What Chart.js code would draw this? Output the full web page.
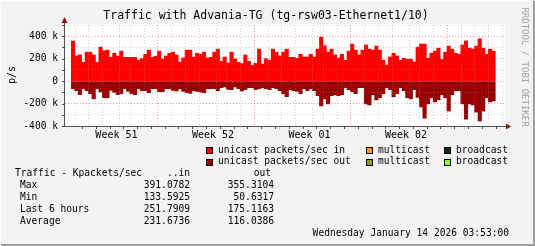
<!DOCTYPE html>
<html>
<head>
<meta charset="utf-8">
<script src="https://cdn.jsdelivr.net/npm/chart.js@4.4.1/dist/chart.umd.min.js"></script>
<style>
  html, body { margin: 0; padding: 0; background: #f3f3f3; }
</style>
</head>
<body>
<canvas id="traffic" width="535" height="246"></canvas>
<script>
// 6-hour averages, Kpackets/sec
const inKpps = [
  357, 224, 233, 167, 258, 258, 233, 167, 303, 270, 276, 212, 248, 224, 267, 212,
  212, 212, 212, 185, 200, 239, 276, 212, 222, 267, 197, 224, 248, 258, 233, 170,
  206, 276, 276, 215, 248, 239, 258, 206, 212, 258, 285, 176, 215, 161, 258, 197,
  167, 156, 233, 176, 139, 158, 285, 152, 200, 185, 285, 258, 224, 258, 285, 212,
  212, 203, 239, 215, 215, 239, 215, 285, 391, 315, 258, 285, 233, 206, 239, 185,
  267, 330, 276, 233, 276, 321, 285, 276, 312, 276, 185, 142, 215, 248, 224, 185,
  203, 194, 194, 170, 303, 330, 330, 203, 248, 267, 294, 194, 258, 312, 285, 248,
  239, 321, 358, 294, 285, 312, 377, 294, 239, 285, 267
];
const outKpps = [
  67, 85, 121, 67, 85, 112, 158, 67, 97, 148, 148, 82, 100, 121, 112, 67,
  91, 112, 121, 67, 85, 85, 103, 67, 67, 94, 94, 67, 67, 82, 88, 67,
  91, 103, 109, 85, 91, 97, 103, 67, 67, 67, 85, 58, 52, 73, 76, 52,
  67, 88, 75, 58, 58, 76, 67, 58, 67, 76, 58, 67, 85, 112, 139, 76,
  85, 91, 112, 67, 85, 67, 85, 130, 221, 158, 203, 130, 121, 130, 121, 58,
  76, 94, 112, 58, 58, 203, 212, 121, 167, 148, 112, 58, 76, 139, 112, 58,
  85, 148, 158, 76, 145, 230, 330, 203, 148, 185, 167, 121, 148, 267, 121, 85,
  85, 203, 339, 203, 212, 276, 355, 267, 148, 185, 176
];
const weekLabels = ['Week 51', 'Week 52', 'Week 01', 'Week 02'];

const legendRow1 = ['unicast packets/sec in', 'multicast', 'broadcast'];
const legendRow2 = ['unicast packets/sec out', 'multicast', 'broadcast'];
const legendColors1 = ['#ff0000', '#ff9900', '#003300'];
const legendColors2 = ['#990000', '#999900', '#99ff00'];

const statNames = ['Max', 'Min', 'Last 6 hours', 'Average'];
const statIn = ['391.0782', '133.5925', '251.7909', '231.6736'];
const statOut = ['355.3104', '50.6317', '175.1163', '116.0386'];

const MONO = '"DejaVu Sans Mono", monospace';
const SLOTS = 124;          // 6-hour slots across the plot
const DAY = 4;              // slots per day
const FIRST_DAY = 3.1;      // first midnight, in slots
const FIRST_WEEK_DAY = 6;   // index of the first Monday among the day lines

const dayLines = [];
for (let v = FIRST_DAY; v < SLOTS; v += DAY) dayLines.push(v);
const weekLines = dayLines.filter((v, i) => (i - FIRST_WEEK_DAY) % 7 === 0);
const weekCenters = weekLabels.map((w, i) => weekLines[i] - 3.5 * DAY);
const weekLineSet = new Set(weekLines);
const centerSet = new Set(weekCenters);

// rrdtool draws its grid over the graph, half transparent
const minorGrid = 'rgba(143,143,143,0.4)';
const majorGrid = 'rgba(255,0,0,0.4)';

const tickVal = c => (c && c.tick) ? c.tick.value : null;

const rrdDecor = {
  id: 'rrdDecor',
  beforeDraw(chart) {
    const { ctx, chartArea: a } = chart;
    ctx.save();
    ctx.fillStyle = '#f3f3f3';
    ctx.fillRect(0, 0, chart.width, chart.height);
    ctx.fillStyle = '#ffffff';
    ctx.fillRect(a.left, a.top - 1, a.right - a.left, a.bottom - a.top + 1);
    ctx.restore();
  },
  afterDraw(chart) {
    const { ctx, chartArea: a } = chart;
    const xs = chart.scales.x, ys = chart.scales.y;
    ctx.save();

    // axes
    ctx.strokeStyle = '#505050';
    ctx.lineWidth = 1;
    ctx.beginPath();
    ctx.moveTo(a.left - 0.5, a.bottom + 0.5);
    ctx.lineTo(a.left - 0.5, a.top - 3);
    ctx.moveTo(a.left - 3, a.bottom + 0.5);
    ctx.lineTo(a.right + 2, a.bottom + 0.5);
    // small tick marks
    for (let v = -400; v <= 500; v += 100) {
      const y = Math.round(ys.getPixelForValue(v)) + 0.5;
      ctx.moveTo(a.left - 3, y);
      ctx.lineTo(a.left, y);
    }
    dayLines.forEach(v => {
      const x = Math.round(xs.getPixelForValue(v)) + 0.5;
      ctx.moveTo(x, a.bottom);
      ctx.lineTo(x, a.bottom + 3);
    });
    ctx.stroke();

    // arrows
    ctx.fillStyle = '#8f1010';
    ctx.beginPath();
    ctx.moveTo(a.left - 0.5, a.top - 8);
    ctx.lineTo(a.left - 3.5, a.top - 2);
    ctx.lineTo(a.left + 2.5, a.top - 2);
    ctx.closePath();
    ctx.fill();
    ctx.beginPath();
    ctx.moveTo(a.right + 6, a.bottom + 0.5);
    ctx.lineTo(a.right + 1, a.bottom - 2.5);
    ctx.lineTo(a.right + 1, a.bottom + 3.5);
    ctx.closePath();
    ctx.fill();

    // title and side texts
    ctx.fillStyle = '#000';
    ctx.textBaseline = 'middle';
    ctx.textAlign = 'center';
    ctx.font = '11.5px ' + MONO;
    ctx.fillText('Traffic with Advania-TG (tg-rsw03-Ethernet1/10)', 266, 16.5);

    ctx.font = '10px ' + MONO;
    ctx.save();
    ctx.translate(12, 75);
    ctx.rotate(-Math.PI / 2);
    ctx.fillText('p/s', 0, 0);
    ctx.restore();

    ctx.save();
    ctx.fillStyle = '#a0a0a0';
    ctx.font = '9px ' + MONO;
    ctx.translate(524, 67);
    ctx.rotate(Math.PI / 2);
    ctx.fillText('RRDTOOL / TOBI OETIKER', 0, 0);
    ctx.restore();

    // legend
    ctx.font = '9.6px ' + MONO;
    ctx.textAlign = 'left';
    const boxX = [206, 366, 444];
    const rows = [[legendRow1, legendColors1, 150], [legendRow2, legendColors2, 161.5]];
    rows.forEach(([names, colors, y]) => {
      names.forEach((name, i) => {
        ctx.fillStyle = colors[i];
        ctx.fillRect(boxX[i], Math.round(y) - 3, 7, 7);
        ctx.strokeStyle = '#000';
        ctx.lineWidth = 1;
        ctx.strokeRect(boxX[i] + 0.5, Math.round(y) - 2.5, 6, 6);
        ctx.fillStyle = '#000';
        ctx.fillText(name, boxX[i] + 12, y);
      });
    });

    // statistics
    ctx.fillText('Traffic - Kpackets/sec', 15, 173.7);
    ctx.textAlign = 'right';
    ctx.fillText('..in', 190, 173.7);
    ctx.fillText('out', 271, 173.7);
    statNames.forEach((name, i) => {
      const y = 185.6 + i * 11.8;
      ctx.textAlign = 'left';
      ctx.fillText(name, 20, y);
      ctx.textAlign = 'right';
      ctx.fillText(statIn[i], 190, y);
      ctx.fillText(statOut[i], 274, y);
    });
    ctx.fillText('Wednesday January 14 2026 03:53:00', 509, 233.3);

    // frame
    ctx.lineWidth = 1;
    ctx.strokeStyle = '#fcfcfc';
    ctx.beginPath();
    ctx.moveTo(0.5, chart.height);
    ctx.lineTo(0.5, 0.5);
    ctx.lineTo(chart.width, 0.5);
    ctx.stroke();
    ctx.strokeStyle = '#9e9e9e';
    ctx.lineWidth = 2;
    ctx.beginPath();
    ctx.moveTo(1, chart.height - 1);
    ctx.lineTo(chart.width - 1, chart.height - 1);
    ctx.lineTo(chart.width - 1, 1);
    ctx.stroke();
    ctx.restore();
  }
};

new Chart(document.getElementById('traffic'), {
  type: 'bar',
  data: {
    datasets: [
      {
        label: 'unicast packets/sec in',
        data: inKpps.map((v, i) => ({ x: i + 0.5, y: v })),
        backgroundColor: '#ff0000',
        borderWidth: 0,
        grouped: false,
        barPercentage: 1,
        categoryPercentage: 1
      },
      {
        label: 'unicast packets/sec out',
        data: outKpps.map((v, i) => ({ x: i + 0.5, y: -v })),
        backgroundColor: '#990000',
        borderWidth: 0,
        grouped: false,
        barPercentage: 1,
        categoryPercentage: 1
      }
    ]
  },
  options: {
    responsive: false,
    animation: false,
    devicePixelRatio: 1,
    layout: { padding: { left: 0, right: 30, top: 25, bottom: 100 } },
    plugins: { legend: { display: false }, tooltip: { enabled: false } },
    scales: {
      x: {
        type: 'linear',
        min: 0,
        max: SLOTS,
        afterFit(s) { s.height = 20; },
        afterBuildTicks(s) {
          s.ticks = [...dayLines, ...weekCenters].sort((a, b) => a - b).map(v => ({ value: v }));
        },
        ticks: {
          autoSkip: false,
          maxRotation: 0,
          padding: 3,
          color: '#000',
          font: { family: MONO, size: 10 },
          callback: v => centerSet.has(v) ? weekLabels[weekCenters.indexOf(v)] : ''
        },
        grid: {
          z: 1,
          drawTicks: false,
          color: c => {
            const v = tickVal(c);
            if (v === null) return minorGrid;
            return centerSet.has(v) ? 'rgba(0,0,0,0)' : (weekLineSet.has(v) ? majorGrid : minorGrid);
          }
        },
        border: { display: false, dash: [1, 2] }
      },
      y: {
        min: -400,
        max: 500,
        afterFit(s) { s.width = 65; },
        ticks: {
          stepSize: 100,
          autoSkip: false,
          padding: 7,
          color: '#000',
          font: { family: MONO, size: 9.6 },
          callback: v => v % 200 === 0 ? (v === 0 ? '0' : v + ' k') : ''
        },
        grid: {
          z: 1,
          drawTicks: false,
          color: c => {
            const v = tickVal(c);
            return (v !== null && v % 200 === 0) ? majorGrid : minorGrid;
          }
        },
        border: { display: false, dash: [1, 2] }
      }
    }
  },
  plugins: [rrdDecor]
});
</script>
</body>
</html>
